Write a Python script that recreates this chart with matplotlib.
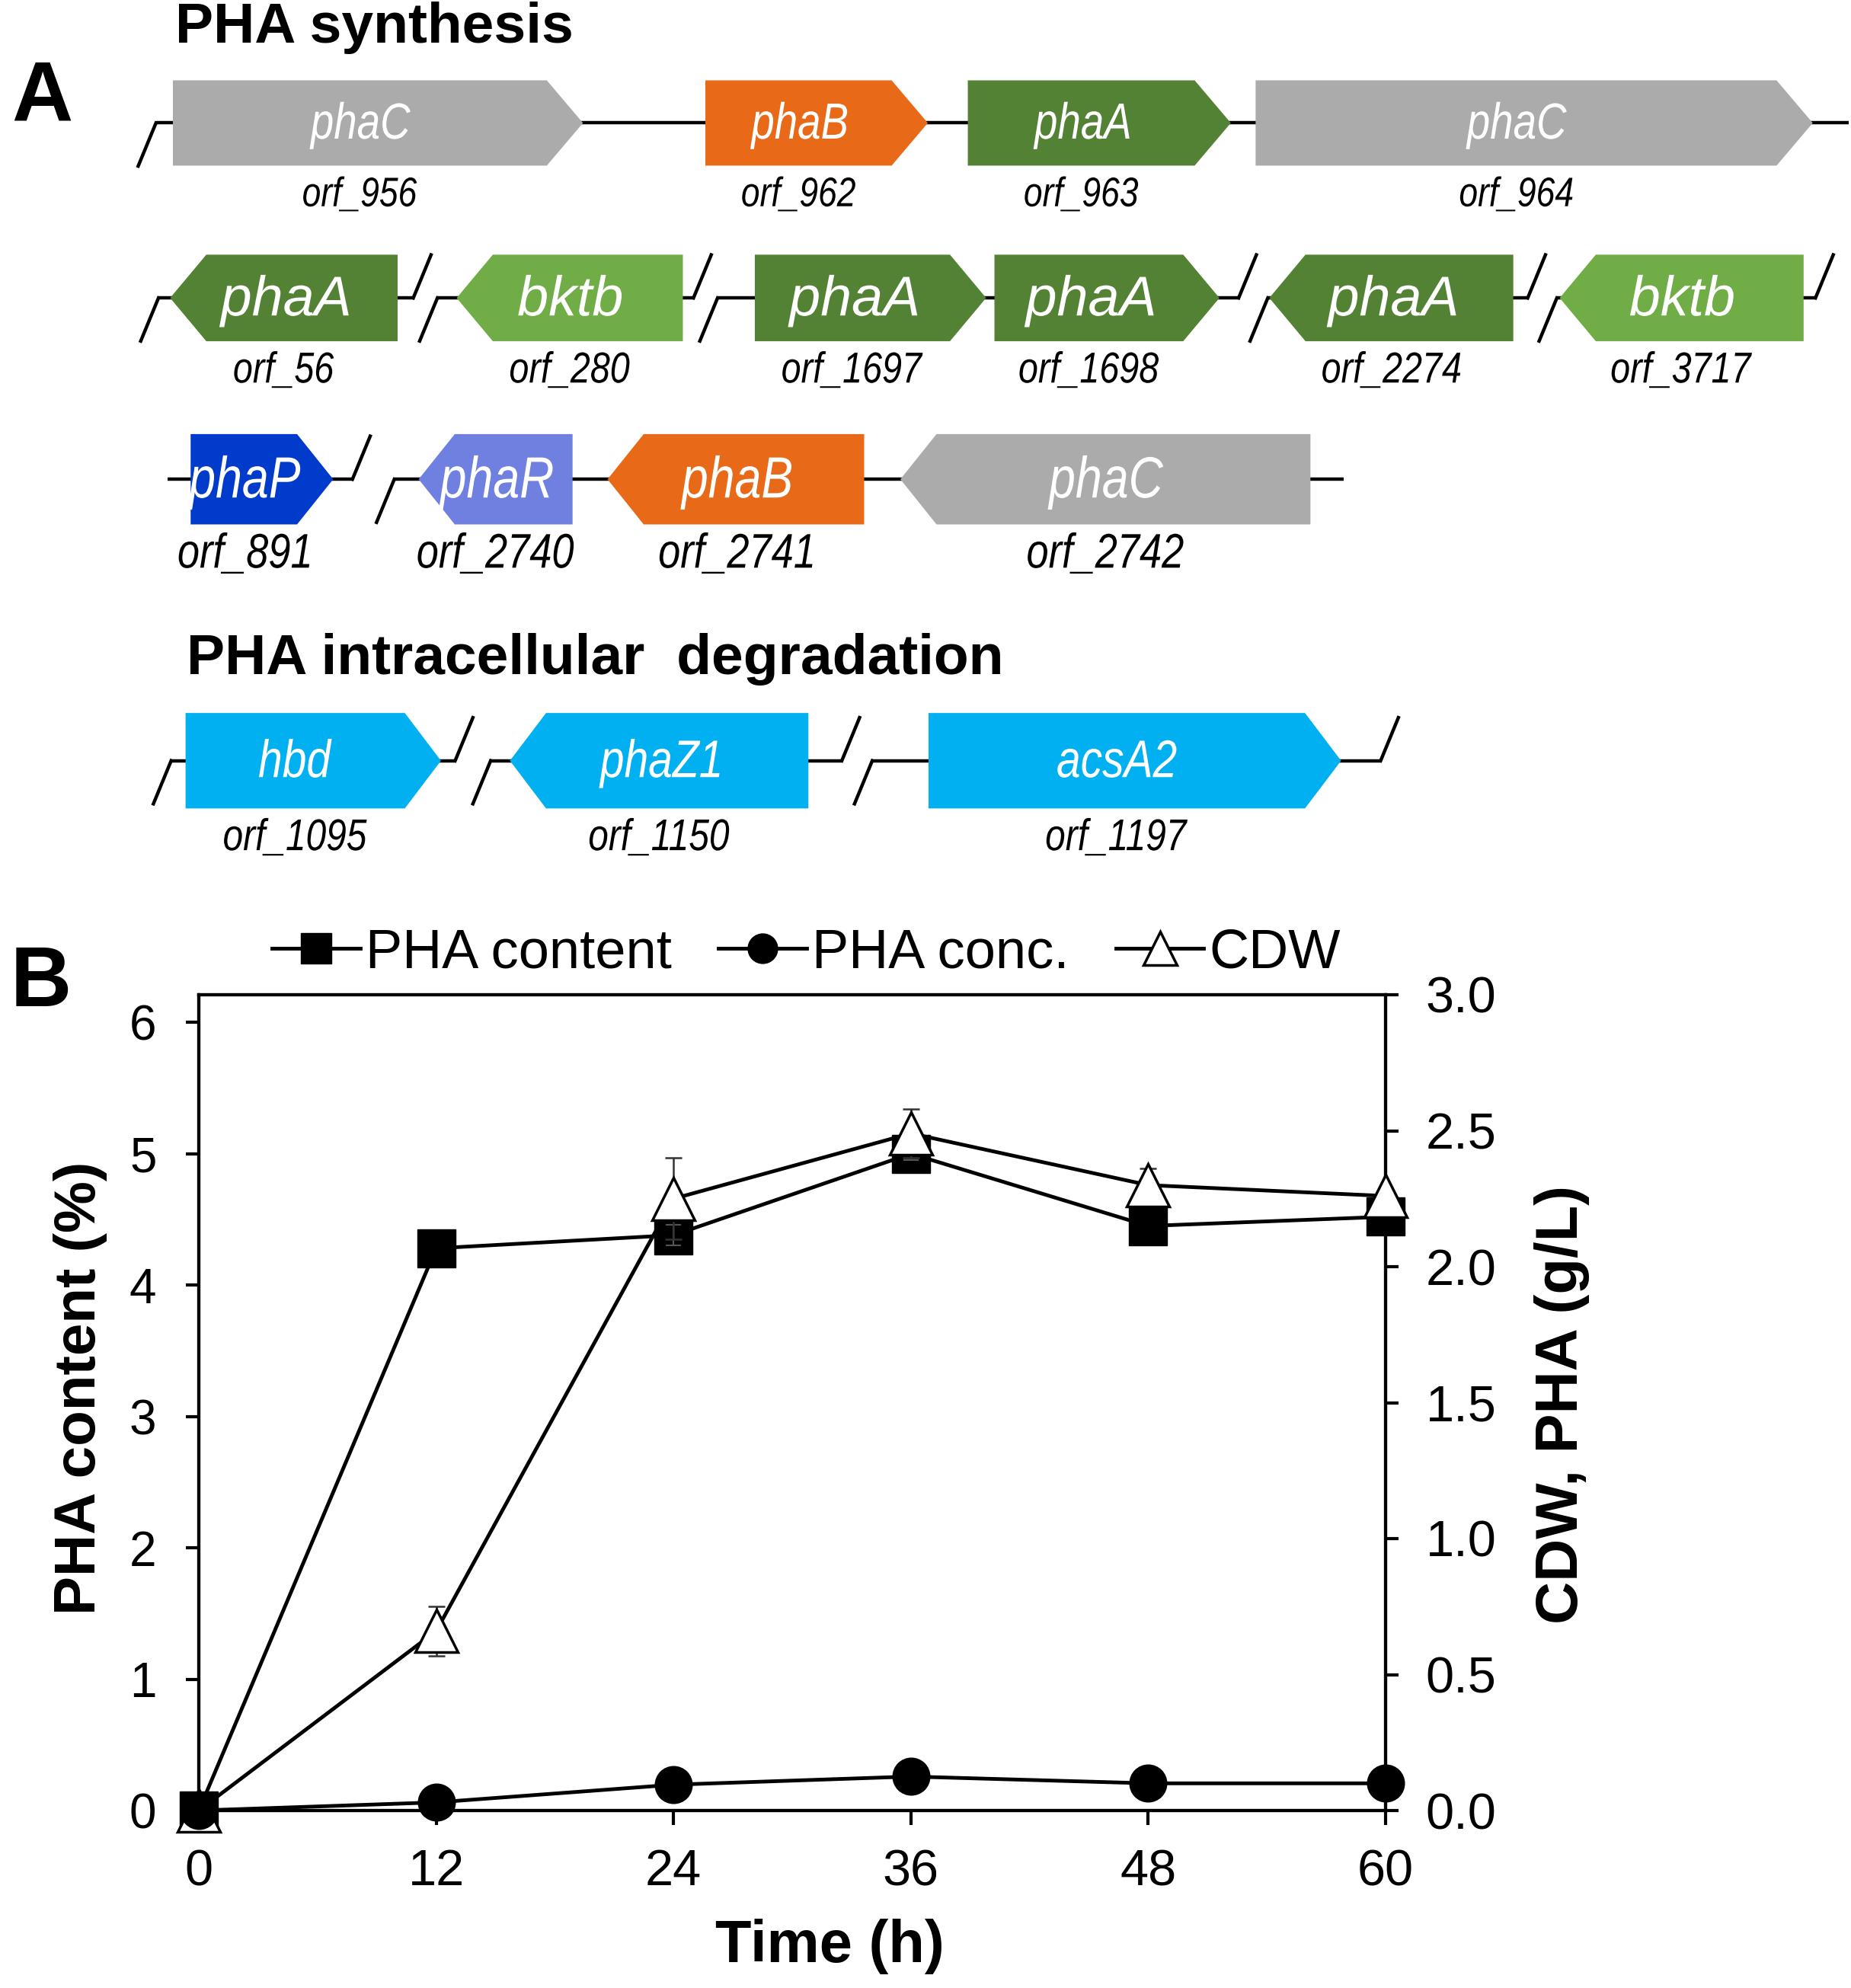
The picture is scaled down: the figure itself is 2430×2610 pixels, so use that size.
import matplotlib
matplotlib.use("Agg")
import matplotlib.pyplot as plt
from matplotlib import font_manager
from matplotlib.font_manager import FontProperties
from matplotlib.patches import Polygon, PathPatch
from matplotlib.textpath import TextPath
import matplotlib.transforms as mtransforms
import numpy as np

installed = {f.name for f in font_manager.fontManager.ttflist}
SANS = "Liberation Sans" if "Liberation Sans" in installed else "DejaVu Sans"
plt.rcParams["font.family"] = [SANS, "DejaVu Sans"]

# ---- panel A: gene map (map units, y grows downward) ----
gene_names = ["phaC", "phaB", "phaA", "phaC",
              "phaA", "bktb", "phaA", "phaA", "phaA", "bktb",
              "phaP", "phaR", "phaB", "phaC",
              "hbd", "phaZ1", "acsA2"]
gene_orfs = ["orf_956", "orf_962", "orf_963", "orf_964",
             "orf_56", "orf_280", "orf_1697", "orf_1698", "orf_2274", "orf_3717",
             "orf_891", "orf_2740", "orf_2741", "orf_2742",
             "orf_1095", "orf_1150", "orf_1197"]
gene_row = [0, 0, 0, 0, 1, 1, 1, 1, 1, 1, 2, 2, 2, 2, 3, 3, 3]
gene_start = [137, 557, 764, 991, 135, 361, 596, 785, 1002, 1231,
              151, 331, 480, 711, 147, 403, 733]
gene_end = [459, 731, 970, 1429, 313, 538, 777, 961, 1193, 1422,
            262, 451, 681, 1033, 347, 637, 1057]
gene_strand = [1, 1, 1, 1, -1, -1, 1, 1, -1, -1,
               1, -1, -1, -1, 1, -1, 1]

# contiguous backbone pieces (row, start, end, break mark left / right)
locus_row = [0, 1, 1, 1, 1, 1, 2, 2, 3, 3, 3]
locus_start = [123, 125, 345, 566, 1000, 1228, 132, 311, 135, 387, 688]
locus_end = [1458, 326, 547, 977, 1205, 1432, 278, 1060, 359, 664, 1089]
locus_break_left = [1, 1, 1, 1, 1, 1, 0, 1, 1, 1, 1]
locus_break_right = [0, 1, 1, 1, 1, 1, 1, 0, 1, 1, 1]

# ---- panel B: time course ----
time_h = [0, 12, 24, 36, 48, 60]
pha_content = [0, 4.28, 4.38, 5.0, 4.45, 4.52]
pha_content_err = [0, 0, 0.08, 0.05, 0, 0]
pha_conc = [0, 0.03, 0.095, 0.125, 0.10, 0.10]
cdw = [0, 0.66, 2.25, 2.49, 2.30, 2.26]
cdw_err = [0, 0.09, 0.15, 0.09, 0.06, 0.02]

# styles
gene_colors = {"phaC": "#ABABAB", "phaB": "#E86A18", "phaA": "#548235",
               "bktb": "#70AD47", "phaP": "#003BCB", "phaR": "#6F80E0",
               "hbd": "#00B0F0", "phaZ1": "#00B0F0", "acsA2": "#00B0F0"}
row_y = [97, 235, 378, 600]
row_h = [66, 67, 70, 74]
row_name_size = [48, 53, 55, 50]
row_name_squeeze = [0.82, 1.0, 0.82, 0.82]
row_orf_size = [39, 41, 46, 42]
head = 28

W, H = 2430, 2610
PX_PER_UNIT = W / 1460.0


def squeezed_text(ax, x, y, s, size, color, squeeze=0.82, weight="normal",
                  style="italic"):
    """Text centred at (x, y) in map units, narrowed horizontally."""
    fp = FontProperties(family=SANS, style=style, weight=weight)
    size_u = size * 100 / 72 / PX_PER_UNIT
    tp = TextPath((0, 0), s, size=size_u, prop=fp)
    ext = tp.get_extents()
    cap = 0.716 * size_u
    tr = (mtransforms.Affine2D()
          .translate(-(ext.x0 + ext.x1) / 2, -cap / 2)
          .scale(squeeze, -1)
          .translate(x, y))
    ax.add_patch(PathPatch(tr.transform_path(tp), facecolor=color,
                           edgecolor="none", zorder=3))


fig = plt.figure(figsize=(24.3, 26.1), dpi=100)

axA = fig.add_axes([0, 0, 1, 1])
axA.set_xlim(0, 1460)
axA.set_ylim(1568, 0)
axA.axis("off")

blw = 3.2
for r, x0, x1, bl, br in zip(locus_row, locus_start, locus_end,
                             locus_break_left, locus_break_right):
    y = row_y[r]
    axA.plot([x0, x1], [y, y], color="black", lw=blw, solid_capstyle="butt", zorder=1)
    if bl:
        axA.plot([x0 - 14, x0], [y + 34, y], color="black", lw=blw, zorder=1)
    if br:
        axA.plot([x1, x1 + 14], [y, y - 34], color="black", lw=blw, zorder=1)

for name, orf, r, xl, xr, s in zip(gene_names, gene_orfs, gene_row,
                                   gene_start, gene_end, gene_strand):
    yc, h = row_y[r], row_h[r]
    top, bot = yc - h / 2, yc + h / 2
    if s > 0:
        pts = [(xl, top), (xr - head, top), (xr, yc), (xr - head, bot), (xl, bot)]
        cx = (xl + xr - head) / 2
    else:
        pts = [(xl, yc), (xl + head, top), (xr, top), (xr, bot), (xl + head, bot)]
        cx = (xl + xr) / 2
    col = gene_colors[name]
    axA.add_patch(Polygon(pts, closed=True, facecolor=col, edgecolor=col,
                          lw=1.5, zorder=2))
    squeezed_text(axA, cx, yc - 2, name, row_name_size[r], "white",
                  squeeze=row_name_squeeze[r])
    squeezed_text(axA, cx, bot + 21, orf, row_orf_size[r], "black")

axA.text(138, 22, "PHA synthesis", fontsize=54, fontweight="bold",
         ha="left", va="center")
axA.text(147, 520, "PHA intracellular  degradation", fontsize=54,
         fontweight="bold", ha="left", va="center")
axA.text(33, 78, "A", fontsize=80, fontweight="bold", ha="center", va="center")
axA.text(32, 776, "B", fontsize=80, fontweight="bold", ha="center", va="center")

# ---- panel B ----
ax = fig.add_axes([261 / W, 1 - 2377 / H, (1819 - 261) / W, (2377 - 1306) / H])
ax2 = ax.twinx()

lw = 3.5
t_arr = np.array(time_h)
ce = np.array(pha_content_err)
m = ce > 0
ax.errorbar(t_arr[m], np.array(pha_content)[m], yerr=ce[m], fmt="none",
            ecolor="#555555", elinewidth=1.5, capsize=7, capthick=1.5, zorder=5)
l1, = ax.plot(time_h, pha_content, color="black", lw=lw, marker="s", ms=36,
              mfc="black", mec="black", clip_on=False, zorder=3,
              label="PHA content")

de = np.array(cdw_err)
m = de > 0
ax2.errorbar(t_arr[m], np.array(cdw)[m], yerr=de[m], fmt="none", ecolor="#333333",
             elinewidth=1.8, capsize=8, capthick=1.8, zorder=2)
l3, = ax2.plot(time_h, cdw, color="black", lw=lw, marker="^", ms=40,
               mfc="white", mec="black", mew=2.5, clip_on=False, zorder=4,
               label="CDW")
l2, = ax2.plot(time_h, pha_conc, color="black", lw=lw, marker="o", ms=35,
               mfc="black", mec="black", clip_on=False, zorder=4,
               label="PHA conc.")

ax.set_xlim(0, 60)
ax.set_ylim(0, 6.21)
ax2.set_ylim(0, 3.0)
ax.set_xticks(time_h)
ax.set_xticklabels([str(t) for t in time_h])
ax.set_yticks(range(7))
ax2.set_yticks(np.arange(0, 3.01, 0.5))
ax2.set_yticklabels(["%.1f" % v for v in np.arange(0, 3.01, 0.5)])

for a in (ax, ax2):
    for sp in a.spines.values():
        sp.set_linewidth(3)
ax.tick_params(axis="y", direction="out", length=12, width=3, labelsize=46, pad=28)
ax.tick_params(axis="x", direction="out", length=14, width=3, labelsize=48, pad=22)
ax2.tick_params(axis="y", direction="out", length=12, width=3, labelsize=48, pad=26)

ax.set_xlabel("Time (h)", fontsize=56, fontweight="bold")
ax.xaxis.set_label_coords(0.532, -0.133)
ax.set_ylabel("PHA content (%)", fontsize=55, fontweight="bold")
ax.yaxis.set_label_coords(-0.077, 0.518)
ax2.set_ylabel("CDW, PHA (g/L)", fontsize=56, fontweight="bold")
ax2.yaxis.set_label_coords(1.125, 0.498)

fig.legend([l1, l2, l3], ["PHA content", "PHA conc.", "CDW"],
           loc="center", bbox_to_anchor=(636 / 1460, 1 - 752 / 1568),
           ncol=3, frameon=False, fontsize=52, handlelength=1.6,
           handletextpad=0.1, columnspacing=0.85, markerscale=0.8)

fig.savefig("out.png", dpi=100)
